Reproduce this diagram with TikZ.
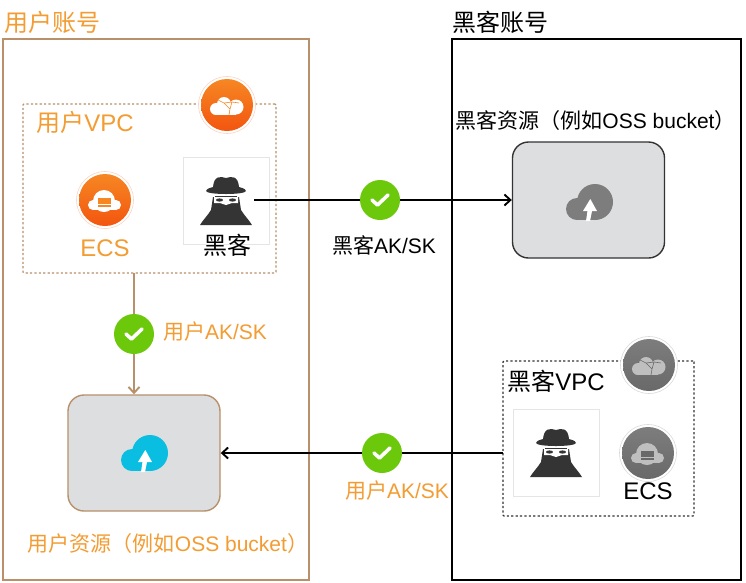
\documentclass[tikz,border=0pt]{standalone}
\usepackage{fontspec}
\setmainfont{Liberation Sans}
\newfontfamily\cjk{Noto Sans CJK SC}
\usetikzlibrary{arrows.meta}
\definecolor{tan}{RGB}{184, 144, 106}
\definecolor{label}{RGB}{243, 156, 50}
\definecolor{okgreen}{RGB}{108, 200, 10}
\definecolor{panel}{RGB}{220, 222, 224}
\definecolor{skyblue}{RGB}{10, 190, 225}
\definecolor{darkfig}{RGB}{52, 52, 52}
\definecolor{orangeA}{RGB}{246, 135, 35}
\definecolor{orangeB}{RGB}{243, 85, 15}
\definecolor{greyA}{RGB}{125, 125, 125}
\definecolor{greyB}{RGB}{105, 105, 105}

\tikzset{
  title/.style={inner sep=0, font=\fontsize{24}{24}\selectfont},
  medium/.style={inner sep=0, font=\fontsize{21}{21}\selectfont},
  small/.style={inner sep=0, font=\fontsize{21}{21}\selectfont},
  account/.style={draw, line width=1.6},
  vpcbox/.style={draw, line width=1.3, rounded corners=1pt, dash pattern=on 2.2pt off 2.2pt},
  resource/.style={draw, line width=1.4, fill=panel, rounded corners=16pt, minimum width=152, minimum height=116},
  figbox/.style={draw=black!10, line width=0.4, fill=white, minimum width=86, minimum height=87},
  figure/.style={inner sep=0, minimum width=56, minimum height=50},
  flow/.style={-{Straight Barb[length=6pt, width=11pt]}, line width=1.9},
  check/.style={circle, inner sep=0, minimum size=40, fill=okgreen, path picture={
    \draw[white, line width=3.6, line cap=round, line join=round]
      ([shift={(-8, 0)}]path picture bounding box.center) --
      ([shift={(-2.5, 5)}]path picture bounding box.center) --
      ([shift={(8, -5)}]path picture bounding box.center);}},
  pics/badge/.style 2 args={code={
    \draw[#2!25, line width=0.6, fill=white] (0, 0) circle [radius=28.5];
    \shade[top color=#1, bottom color=#2] (0, 0) circle [radius=26];
  }},
  pics/netcloud/.style 2 args={code={
    \fill[#1] (-11, 4) circle [radius=6];
    \fill[#1] (-3, -1) circle [radius=7];
    \fill[#1] (9, 2) circle [radius=7.5];
    \fill[#1] (-11, 3) rectangle (9, 10);
    \draw[#2, line width=0.6] (-9, -5) -- (-3, -2) -- (3, 4) -- (2, 10) (-3, -2) -- (5, -3) -- (3, 4) (5, -3) -- (12, -2);
  }},
  pics/servercloud/.style 2 args={code={
    \fill[#1] (-12, 5) circle [radius=5];
    \fill[#1] (-1, 1) circle [radius=11];
    \fill[#1] (11, 5) circle [radius=5];
    \fill[#1] (-12, 0) rectangle (11, 10);
    \fill[#2] (-7, -2) rectangle (6, 0.6);
    \fill[#2] (-7, 1.4) rectangle (6, 4);
    \fill[#2] (-7, 4.8) rectangle (6, 7.4);
  }},
  pics/upcloud/.style={code={
    \fill[#1] (5, -2) circle [radius=18];
    \fill[#1] (-13, 5) circle [radius=11];
    \fill[#1] (-13, 6) rectangle (5, 16);
    \fill[white] (0.3, -5) -- (7, 7) -- (2, 7) -- (0, 17) -- (-4, 17) -- (-2.5, 7) -- (-7, 7) -- cycle;
  }},
  pics/hacker/.style={code={
    \fill[darkfig] (-26, 24) .. controls (-23, 19) and (-18, 14) .. (-15, 9) -- (-13, -4) -- (13, -4)
      -- (15, 9) .. controls (18, 14) and (23, 19) .. (26, 24) -- cycle;
    \fill[darkfig] (-20, -10) .. controls (-19, -6) and (19, -6) .. (20, -10)
      .. controls (19, -13) and (15, -13) .. (13, -14) .. controls (12, -25) and (6, -25) .. (0, -23)
      .. controls (-6, -25) and (-12, -25) .. (-13, -14) .. controls (-15, -13) and (-19, -13) .. (-20, -10);
    \fill[white] (-12, -6) -- (12, -6) -- (12, 2) -- (6, 2) -- (0, 4) -- (-6, 2) -- (-12, 2) -- cycle;
    \fill[darkfig] (-11, -4.8) rectangle (11, -3.8);
    \fill[darkfig] (-6.5, -1) ellipse [x radius=3.5, y radius=1.6];
    \fill[darkfig] (6.5, -1) ellipse [x radius=3.5, y radius=1.6];
  }}
}

\begin{document}
\begin{tikzpicture}[x=1pt, y=-1pt]
  \fill [white] (0, 0) rectangle (746, 582);
  \useasboundingbox (0, 0) rectangle (746, 582);

  \draw [account, tan] (3, 39) rectangle (309, 580);
  \draw [account, black] (452, 39) rectangle (741, 580);
  \node [title, text=label] (userTitle) at (53, 22) {\cjk 用户账号};
  \node [title] (hackerTitle) at (500, 22) {\cjk 黑客账号};

  \node [vpcbox, draw=tan, minimum width=253, minimum height=169] (userVpc) at (149.5, 188.5) {};
  \node [title, text=label] (userVpcLabel) at (85, 122) {{\cjk 用户}VPC};
  \pic at (227, 105) {badge={orangeA}{orangeB}};
  \pic at (227, 105) {netcloud={white}{orangeA}};
  \pic at (105, 200) {badge={orangeA}{orangeB}};
  \pic at (105, 200) {servercloud={white}{orangeA}};
  \node [title, text=label] (userEcs) at (105, 248) {ECS};

  \node [figbox] (hackerBoxA) at (226, 200.5) {};
  \node [figure] (hackerA) at (226, 200) {};
  \pic at (226, 201) {hacker};
  \node [title] (hackerA-name) at (227, 245) {\cjk 黑客};

  \node [resource, draw=tan] (ossUser) at (144, 453) {};
  \pic at (145, 455) {upcloud=skyblue};
  \node [medium, text=label] (ossUserLabel) at (168, 544) {{\cjk 用户资源（例如}OSS bucket{\cjk ）}};

  \node [resource, draw=black!80] (ossHacker) at (588.5, 200) {};
  \pic at (590, 204) {upcloud=greyA};
  \node [medium] (ossHackerLabel) at (595.5, 121) {{\cjk 黑客资源（例如}OSS bucket{\cjk ）}};

  \node [vpcbox, draw=black!80, minimum width=191, minimum height=155] (hackerVpc) at (598.5, 438.5) {};
  \node [title] (hackerVpcLabel) at (556, 381) {{\cjk 黑客}VPC};
  \pic at (649, 365) {badge={greyA}{greyB}};
  \pic at (649, 365) {netcloud={black!25}{greyB}};
  \node [figbox] (hackerBoxB) at (556, 452.5) {};
  \node [figure] (hackerB) at (556, 453) {};
  \pic at (556, 453) {hacker};
  \pic at (648, 453) {badge={greyA}{greyB}};
  \pic at (648, 453) {servercloud={black!25}{greyB}};
  \node [title] (hackerEcs) at (648, 491) {ECS};

  \coordinate (userVpcOut) at (134, 273);
  \coordinate (hackerVpcOut) at (503, 453);

  \draw [flow] (hackerA.east) -- (ossHacker.west);
  \draw [flow] (hackerVpcOut) -- (ossUser.east);
  \draw [flow, tan] (userVpcOut) -- (userVpcOut |- ossUser.north);

  \node [check] (okHacker) at (380, 200) {};
  \node [small] (okHackerLabel) at (384, 245) {{\cjk 黑客}AK/SK};
  \node [check] (okUser) at (134, 334) {};
  \node [small, text=label] (okUserLabel) at (215, 332) {{\cjk 用户}AK/SK};
  \node [check] (okSteal) at (382, 453) {};
  \node [small, text=label] (okStealLabel) at (397, 491) {{\cjk 用户}AK/SK};
\end{tikzpicture}
\end{document}
